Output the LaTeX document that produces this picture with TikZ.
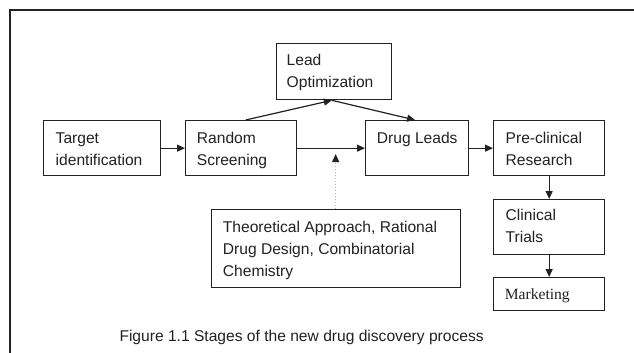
\documentclass[tikz,border=0pt]{standalone}
\usepackage{fontspec}
\setmainfont{Liberation Sans}
\newfontfamily\serifface{Liberation Serif}
\usetikzlibrary{arrows.meta,calc}
\definecolor{ink}{HTML}{222222}
\tikzset{
  box/.style={draw=ink, line width=1.3pt, anchor=north west, inner sep=0pt},
  txt/.style={anchor=base west, inner sep=0pt, align=left, text=ink,
    font=\fontsize{15.6}{21.8}\selectfont},
  conn/.style={draw=ink, line width=1.2pt, -{Triangle[length=8pt,width=7pt]}},
  dotconn/.style={draw=gray!60, line width=1pt, dotted,
    -{Triangle[length=8pt,width=7pt,color=ink]}},
}
\begin{document}
\begin{tikzpicture}[x=1pt,y=-1pt]
\useasboundingbox (0,0) rectangle (634,353);
\fill[white] (0,0) rectangle (634,353);
% outer frame
\draw[line width=2pt, ink] (10,360) -- (10,10) -- (640,10);
% boxes
\node[box, minimum width=117pt, minimum height=55pt] (ti) at (43,120) {};
\node[box, minimum width=111pt, minimum height=55pt] (rs) at (185,120) {};
\node[box, minimum width=115pt, minimum height=56pt] (lo) at (276,43) {};
\node[box, minimum width=103pt, minimum height=55pt] (dl) at (365,120) {};
\node[box, minimum width=111pt, minimum height=55pt] (pc) at (493,120) {};
\node[box, minimum width=111pt, minimum height=55pt] (ct) at (493,199) {};
\node[box, minimum width=111pt, minimum height=33pt] (mk) at (493,277) {};
\node[box, minimum width=249pt, minimum height=78pt] (th) at (210.5,209) {};
% texts (anchor = baseline of the last line)
\node[txt] (tit) at (55.5,165.1) {Target\\identification};
\node[txt] (rst) at (196.7,165.1) {Random\\Screening};
\node[txt] (lot) at (286.5,87.5) {Lead\\Optimization};
\node[txt] (dlt) at (376.7,143.3) {Drug Leads};
\node[txt] (pct) at (505.5,165.1) {Pre-clinical\\Research};
\node[txt] (ctt) at (505.5,242.5) {Clinical\\Trials};
\node[txt, font=\serifface\fontsize{15.6}{20}\selectfont] (mkt) at (504.6,299) {Marketing};
\node[txt] (tht) at (222.7,276.3) {Theoretical Approach, Rational\\Drug Design, Combinatorial\\Chemistry};
\node[txt] (cap) at (119.3,341.7) {Figure 1.1 Stages of the new drug discovery process};
% connectors
\coordinate (rsup) at ($(rs.north west)!0.54!(rs.north east)$);
\coordinate (lodn) at ($(lo.south west)!0.48!(lo.south east)$);
\coordinate (dlup) at ($(dl.north west)!0.48!(dl.north east)$);
\draw[conn] (ti.east) -- (rs.west);
\draw[conn] (rs.east) -- (dl.west);
\draw[conn] (rsup) -- (lodn);
\draw[conn] (lodn) -- (dlup);
\draw[conn] (dl.east) -- (pc.west);
\draw[conn] (pc.south) -- (ct.north);
\draw[conn] (ct.south) -- (mk.north);
\coordinate (dottip) at ($(th.north)+(0,-55)$);
\draw[dotconn] (th.north) -- (dottip);
\end{tikzpicture}
\end{document}
